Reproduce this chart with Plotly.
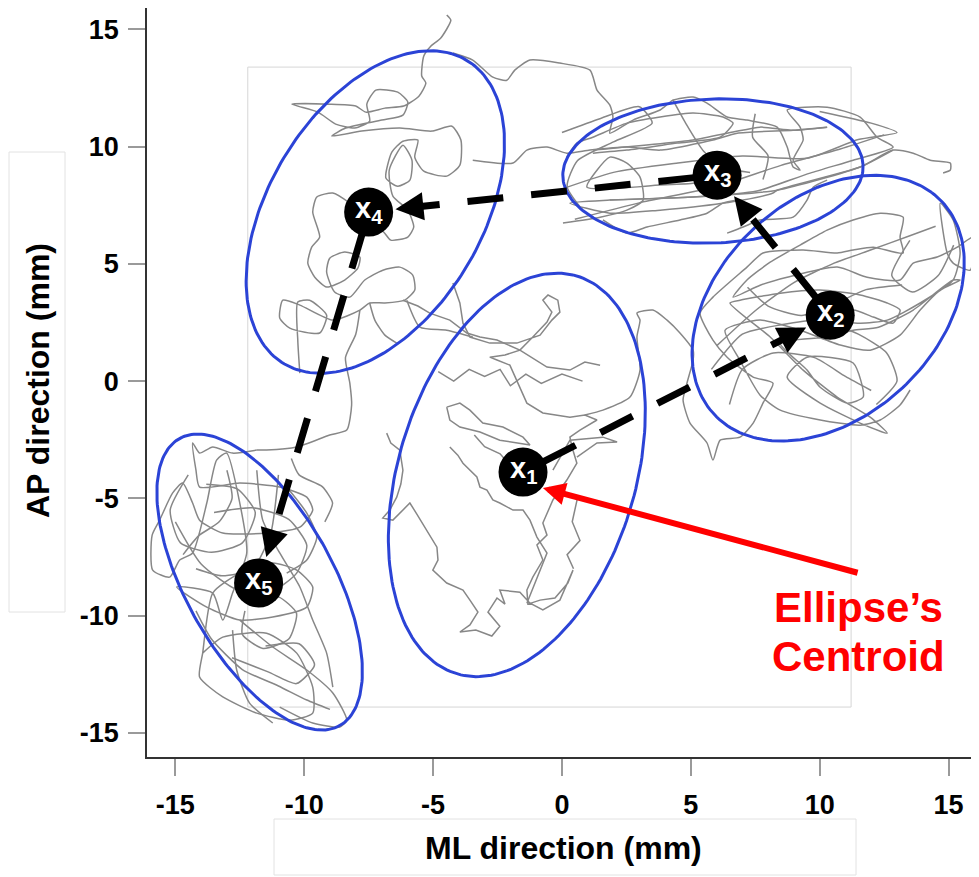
import math
import plotly.graph_objects as go

# ---------------- data ----------------
X_RANGE = [-16.1, 15.95]
Y_RANGE = [-16.03, 15.91]
x_tick_vals = [-15, -10, -5, 0, 5, 10, 15]
x_tick_text = ["-15", "-10", "-5", "0", "5", "10", "15"]
y_tick_vals = [-15, -10, -5, 0, 5, 10, 15]
y_tick_text = ["-15", "-10", "-5", "0", "5", "10", "15"]

# ellipse centroids (black dots x1..x5)
centroid_labels = ["1", "2", "3", "4", "5"]
centroid_x = [-1.51, 10.41, 6.02, -7.50, -11.77]
centroid_y = [-3.88, 2.81, 8.78, 7.21, -8.61]

# confidence ellipses: centre, semi-major, semi-minor, angle of major axis (deg)
ellipse_cx = [-1.75, 10.33, 5.86, -7.24, -11.73]
ellipse_cy = [-4.00, 3.11, 8.96, 7.21, -8.57]
ellipse_a = [8.80, 6.36, 5.83, 7.39, 6.87]
ellipse_b = [4.63, 4.42, 3.07, 4.22, 2.92]
ellipse_angle = [75.7, 50.8, 2.5, 63.5, 115.9]

# red call-out arrow (tail -> tip) and its label
callout_tail = (11.53, -8.19)
callout_tip = (-0.74, -4.56)
callout_lines = ["Ellipse\u2019s", "Centroid"]
callout_text_x = 11.5
callout_text_y = [-9.64, -11.73]

# centre-of-pressure sway paths (ML, AP), None = pen up
sway_1 = [
    (-6.80, -2.22), (-6.64, -2.64), (-6.29, -2.94), (-6.17, -3.80), (-6.25, -4.39), (-6.41, -4.95),
    (-6.68, -5.50), (-6.95, -5.84), (-6.56, -5.93), (-6.17, -5.50), (-5.90, -5.20), (-5.63, -5.67),
    (-5.24, -6.35), (-4.85, -7.08), (-4.81, -7.63), (-5.01, -8.06), (-4.47, -8.61), (-3.84, -8.91),
    (-3.57, -9.34), (-3.26, -9.85), (-3.57, -10.40), (-3.96, -10.70), (-3.34, -10.62), (-2.72, -10.87),
    (-2.41, -10.45), (-2.87, -9.85), (-2.52, -9.25), (-2.21, -9.51), (-2.41, -8.91), (-1.63, -9.00),
    (-1.24, -9.47), (-0.74, -9.76), (-0.08, -9.34), (0.19, -8.70), (0.43, -8.06), (0.23, -8.61),
    (-0.27, -9.25), (-0.85, -9.34), (-1.32, -9.51), (-1.36, -8.91), (-1.13, -8.36), (-0.74, -7.63),
    (-0.97, -6.99), (-0.58, -6.57), (-0.74, -6.05), (-0.35, -5.07), (0.19, -4.22), (0.58, -3.50),
    (0.39, -2.81), (0.31, -2.39), (0.70, -2.09), (1.36, -1.66), (0.89, -1.45), (0.31, -1.54),
    (-0.74, -1.36), (-1.36, -0.94), (-1.75, 0.04), (-2.02, 0.68), (-2.52, 0.90), (-2.80, 1.02),
    (-2.21, 1.11), (-1.63, 1.32), (-1.13, 1.88), (-0.58, 2.52), (-0.39, 2.94), (-0.74, 3.45),
    (-0.54, 3.67), (-0.16, 3.45), (-0.08, 2.94), (-0.39, 2.60), (-0.85, 1.96), (-1.75, 1.62),
    (-2.80, 1.62), (-3.57, 1.88), (-3.84, 2.47), (-3.96, 3.33), (-4.23, 4.18),
    None,
    (-6.17, 3.45), (-5.59, 3.20), (-5.13, 2.90), (-4.35, 2.60), (-3.69, 2.05), (-3.18, 1.88),
    (-2.52, 1.75), (-1.63, 1.32), (-0.58, 0.60), (0.31, 0.47), (0.89, 0.81), (1.48, 0.68),
    None,
    (-4.47, -1.11), (-3.96, -0.94), (-3.57, -1.24), (-3.07, -1.79), (-2.29, -1.96), (-1.51, -2.39),
    (-1.24, -2.73), (-2.41, -2.52), (-3.18, -2.17), (-3.96, -1.96), (-4.35, -1.66), (-4.47, -1.11),
    None,
    (-4.35, -2.81), (-4.04, -3.16), (-3.84, -3.50), (-3.57, -3.80), (-3.30, -4.09), (-3.18, -4.52),
    (-2.91, -4.65), (-2.68, -5.07), (-2.41, -5.20), (-1.90, -5.50), (-1.51, -5.50), (-1.24, -5.93),
    (-0.97, -6.65), (-0.58, -7.33), (-0.97, -8.36), (-1.36, -9.47),
    None,
    (-0.35, -3.80), (-0.08, -3.28), (0.31, -2.52), (1.59, -2.39), (2.14, -2.60), (1.36, -2.64), (0.58, -3.24),
    None,
    (-4.80, 0.40), (-4.20, 0.00), (-3.60, 0.50), (-3.00, 0.20), (-2.40, 0.50), (-2.00, -0.20), (-1.40, 0.30),
    (-0.80, -0.10), (0.00, 0.30), (0.80, 0.00),
    None,
    (-3.40, -2.30), (-3.00, -2.80), (-2.40, -3.10), (-2.00, -3.60), (-2.30, -4.20), (-1.90, -4.80),
    None,
    (0.60, -5.00), (0.40, -6.00), (0.70, -6.80), (0.20, -7.40), (0.45, -8.00),
]

sway_2 = [
    (0.89, -1.45), (1.59, -1.24), (2.64, -0.68), (3.03, 0.47), (2.91, 1.88), (3.03, 2.60), (2.91, 2.90),
    (3.53, 3.03), (4.08, 2.60), (4.58, 2.05), (5.09, 1.32), (5.09, 0.90), (4.85, -0.09), (4.70, -0.81),
    (4.97, -1.79), (5.63, -2.64), (5.86, -3.37), (6.14, -2.52), (6.91, -2.39), (7.42, -1.79),
    (7.80, -0.94), (8.19, -0.09), (7.42, 0.17), (6.41, 1.02), (5.86, 1.75), (5.36, 2.90), (5.86, 3.58),
    (7.18, 4.86), (7.80, 5.46), (9.36, 5.59), (10.68, 5.46), (11.30, 5.59), (12.08, 5.71), (13.24, 5.46),
    (13.12, 6.14), (13.24, 6.99), (12.35, 7.16), (11.30, 6.87), (10.29, 6.44), (9.24, 5.80), (8.08, 5.07),
    (7.18, 4.31), (6.64, 3.58), (7.69, 4.09), (8.74, 4.43), (10.68, 4.86), (11.84, 4.43), (13.12, 4.31),
    (13.63, 5.03), (14.56, 5.29), (15.34, 5.71), (15.96, 6.14), (15.84, 4.73), (15.18, 5.03), (14.95, 5.46),
    (14.68, 7.59), (15.18, 6.87), (15.45, 5.46), (15.18, 4.31), (13.90, 3.33), (12.62, 2.60), (11.57, 2.47),
    (10.68, 2.60), (11.30, 3.03), (12.08, 2.73), (12.85, 2.47), (13.12, 3.03), (12.62, 3.33), (11.57, 3.67),
    (10.02, 3.88), (8.47, 3.75), (6.91, 3.45), (6.52, 3.33), (8.08, 1.88), (9.36, 0.47), (10.68, -0.68),
    (11.96, -1.54), (12.62, -2.22), (11.57, -1.79), (10.02, -0.94), (8.74, 0.17), (9.51, 1.02), (11.30, 0.77),
    (11.69, -0.68), (11.07, -0.94), (10.02, -0.26), (9.51, 0.47), (8.47, 1.62), (10.29, 1.88), (11.30, 2.17),
    (12.28, 2.30), (13.63, 3.03), (15.18, 4.31), (15.45, 4.31), (14.68, 3.88), (13.90, 3.03), (13.12, 1.96),
    (11.96, 1.32), (10.80, 1.54), (9.24, 2.17), (7.69, 2.60), (6.33, 2.17), (6.90, 0.90), (7.69, -0.60),
    (8.47, -1.24), (10.02, -1.66), (11.57, -1.88), (12.35, -1.66), (13.12, -1.02), (13.51, -0.38),
    None,
    (6.00, 1.50), (7.50, 3.00), (9.00, 4.20), (10.50, 5.00), (12.00, 5.60), (13.50, 6.20), (14.50, 6.60),
    None,
    (5.80, 0.50), (7.00, 2.00), (8.50, 2.40), (10.00, 2.60), (11.50, 2.00), (12.60, 1.20), (13.00, 0.00),
    (12.20, -1.00),
    None,
    (6.50, -1.00), (7.00, 0.50), (8.20, 1.20), (9.80, 1.00), (11.00, 0.20), (12.00, -0.40),
    None,
    (13.50, 6.00), (12.80, 4.50), (13.60, 3.80), (14.60, 4.50), (15.20, 5.80),
    None,
    (7.20, 4.00), (8.00, 3.20), (9.30, 2.80), (10.60, 3.30), (11.80, 3.90), (13.20, 4.10),
]

sway_3 = [
    (-4.23, 13.99), (-3.46, 13.69), (-2.68, 12.96), (-2.14, 12.83), (-1.83, 13.26), (-1.24, 13.69),
    (-0.08, 13.56), (1.09, 13.26), (1.36, 12.41), (1.86, 11.77), (1.98, 11.26), (1.86, 10.57),
    (2.76, 11.13), (3.81, 11.56), (4.31, 11.98), (5.09, 12.11), (5.63, 11.85), (6.41, 11.26),
    (7.18, 11.13), (8.35, 10.83), (8.74, 9.98), (8.97, 9.13), (9.24, 9.00), (8.97, 9.42), (9.36, 10.28),
    (9.24, 10.83), (8.74, 11.56), (10.29, 11.68), (11.57, 11.26), (12.23, 10.40), (12.85, 9.98),
    (11.30, 9.42), (9.63, 8.87), (7.69, 8.14), (7.03, 8.02), (5.09, 7.85), (1.86, 7.72), (0.31, 7.59),
    (1.86, 7.16), (3.81, 7.29), (5.09, 7.42), (7.03, 7.72), (8.19, 8.02), (8.35, 8.14), (11.57, 9.13),
    (12.85, 9.85), (13.63, 9.72), (14.29, 9.42), (15.07, 9.30), (15.07, 9.00), (14.79, 8.87),
    None,
    (0.19, 9.55), (0.58, 10.15), (1.20, 10.40), (2.52, 11.00), (3.81, 11.26), (5.09, 11.43), (6.25, 11.26),
    (6.64, 11.00), (6.14, 10.40), (4.47, 10.15), (2.52, 9.85), (1.20, 9.72),
    None,
    (-3.46, 9.42), (-1.90, 9.30), (-1.36, 9.85), (-0.58, 9.98), (0.19, 9.72), (1.09, 9.85), (2.52, 9.98),
    (3.81, 9.85), (5.86, 10.28), (6.80, 10.57), (8.97, 10.70), (10.29, 10.83),
    None,
    (0.04, 6.74), (1.48, 6.99), (2.52, 7.29), (3.15, 7.72), (3.03, 8.70), (2.52, 9.30), (1.86, 9.55),
    (0.97, 8.27), (3.81, 8.36), (5.09, 8.44), (6.00, 8.60),
    None,
    (6.41, 6.31), (7.03, 6.57), (7.69, 6.87), (8.97, 6.99), (9.51, 7.72), (9.75, 8.27), (10.29, 8.57),
    None,
    (1.59, 6.87), (2.52, 6.31), (3.30, 6.57), (4.58, 6.87), (5.63, 7.16), (6.25, 7.59), (6.80, 7.72),
    None,
    (1.20, 9.85), (5.09, 10.28), (6.64, 10.62), (7.69, 10.83), (8.97, 10.70), (10.29, 10.83),
    None,
    (1.86, 7.72), (5.09, 7.85), (8.35, 8.14), (11.57, 9.13), (12.85, 9.85),
    None,
    (-0.50, 8.00), (2.00, 8.90), (4.50, 9.30), (7.00, 9.60), (9.50, 9.50), (11.50, 10.30), (13.00, 10.60),
    (12.00, 11.00), (10.00, 11.50),
    None,
    (0.50, 6.90), (3.00, 7.60), (6.00, 8.30), (8.50, 9.20), (10.80, 9.90), (12.50, 10.50),
    None,
    (0.00, 10.60), (1.50, 11.20), (3.00, 11.70), (3.50, 11.00), (2.00, 10.20), (0.60, 9.40), (0.20, 8.30),
    (0.80, 7.30),
    None,
    (4.30, 12.00), (4.80, 11.00), (5.50, 9.80), (6.30, 9.10), (7.30, 8.90),
    None,
    (7.50, 11.40), (7.40, 10.40), (8.00, 9.60), (7.80, 8.60),
]

sway_4 = [
    (-4.47, 15.61), (-4.31, 15.39), (-4.70, 14.63), (-5.09, 14.28), (-5.36, 13.86), (-5.44, 13.01),
    (-5.28, 12.71), (-5.55, 12.15), (-6.14, 11.73), (-6.87, 11.64), (-7.61, 11.47), (-8.00, 11.73),
    (-9.01, 11.81), (-10.48, 11.81), (-9.47, 11.47), (-8.78, 10.96), (-8.04, 10.79), (-7.46, 11.09),
    (-7.57, 11.81), (-7.22, 12.41), (-6.37, 12.32), (-5.98, 11.90), (-6.17, 11.34), (-6.99, 11.13),
    (-8.39, 10.79), (-8.93, 10.45), (-7.77, 10.66), (-6.29, 10.79), (-5.05, 10.66), (-4.27, 10.87),
    (-3.92, 10.28), (-3.96, 9.21), (-4.47, 8.74), (-5.36, 8.95), (-5.71, 9.55), (-5.59, 10.28),
    (-6.17, 10.23), (-6.60, 9.76), (-6.83, 8.66), (-6.37, 8.31), (-5.90, 8.57), (-5.82, 9.42),
    (-6.17, 10.06), (-6.70, 9.00), (-6.56, 7.89), (-5.98, 7.29), (-5.75, 6.57), (-5.98, 6.14),
    (-6.64, 6.01), (-6.91, 6.35), (-8.23, 7.59), (-8.89, 8.02), (-9.51, 7.85), (-9.67, 7.21),
    (-9.40, 6.14), (-9.71, 5.71), (-9.86, 5.03), (-9.59, 4.43), (-9.13, 4.01), (-8.43, 4.31),
    (-7.92, 4.82), (-7.84, 5.29), (-8.43, 5.50), (-9.01, 5.24), (-9.13, 4.65), (-8.82, 3.80),
    (-8.23, 3.58), (-7.65, 4.31), (-6.95, 4.73), (-6.29, 4.86), (-5.79, 4.52), (-5.71, 3.88),
    (-6.10, 3.45), (-6.87, 3.33), (-7.46, 3.33), (-7.84, 3.03), (-8.89, 2.60), (-10.17, 3.24),
    (-10.83, 3.45), (-10.95, 2.69), (-10.56, 2.26), (-9.40, 2.05), (-9.13, 2.81), (-9.79, 3.45),
    (-10.25, 3.37), (-10.25, 1.75), (-10.17, 0.34),
    None,
    (-7.46, 3.33), (-7.26, 2.60), (-6.87, 1.96), (-6.41, 1.62),
    None,
    (-6.02, 3.45), (-5.51, 2.30), (-4.47, 2.17), (-3.46, 1.88),
    None,
    (-7.84, 3.03), (-8.00, 2.00), (-8.40, 1.00), (-8.23, -0.09), (-8.16, -1.02), (-8.35, -2.09),
    (-9.01, -2.30), (-10.29, -2.81), (-11.46, -2.94), (-11.84, -2.94),
]

sway_5 = [
    (-11.84, -2.94), (-12.78, -3.07), (-13.55, -2.81), (-14.06, -3.07), (-14.33, -2.64), (-14.20, -3.80),
    (-14.06, -4.52), (-12.50, -4.35), (-10.95, -4.52), (-9.90, -4.95), (-9.67, -5.50), (-10.17, -6.23),
    (-11.46, -6.48), (-13.16, -6.48), (-14.06, -5.93), (-14.33, -5.20), (-14.72, -4.35), (-15.11, -4.78),
    (-15.61, -5.93), (-15.90, -6.57), (-15.88, -8.06), (-15.22, -8.36), (-14.83, -7.63), (-14.33, -7.33),
    (-13.78, -5.20), (-13.40, -3.37), (-13.01, -3.07), (-12.50, -5.20), (-12.23, -7.33), (-12.78, -9.04),
    (-13.16, -10.19), (-13.55, -9.04), (-14.95, -8.78), (-13.78, -9.64), (-12.50, -10.19), (-11.22, -10.06),
    (-9.90, -9.64), (-9.67, -8.78), (-10.29, -8.06), (-11.22, -7.76), (-12.50, -8.19), (-13.55, -9.04),
    (-13.94, -11.60), (-14.06, -12.62), (-13.16, -13.47), (-11.84, -14.16), (-10.56, -14.46), (-9.67, -14.16),
    (-9.67, -13.05), (-10.29, -11.60), (-11.46, -10.75), (-13.16, -10.92), (-13.94, -11.60),
    None,
    (-12.50, -10.19), (-11.22, -11.34), (-9.90, -12.32), (-8.89, -13.30), (-8.35, -14.46), (-8.62, -14.75),
    (-9.67, -14.58), (-10.95, -13.90),
    None,
    (-12.78, -10.62), (-12.62, -12.32), (-12.12, -13.73), (-11.22, -14.58),
    None,
    (-11.84, -3.80), (-11.61, -5.93), (-10.95, -7.33), (-10.17, -8.78), (-9.67, -10.19), (-9.13, -11.60),
    (-8.89, -13.05),
    None,
    (-10.68, -4.52), (-9.90, -5.63), (-9.51, -6.65), (-9.90, -7.63), (-10.68, -8.19),
    None,
    (-14.50, -4.00), (-15.20, -5.50), (-14.80, -6.90), (-13.60, -7.30), (-12.40, -6.90), (-11.90, -5.60),
    (-12.60, -4.60), (-13.80, -4.40),
    None,
    (-12.00, -9.30), (-11.00, -9.20), (-10.30, -9.90), (-10.60, -11.00), (-11.60, -11.40), (-12.40, -10.80),
    (-12.30, -9.80),
    None,
    (-14.20, -9.80), (-13.60, -11.00), (-12.40, -12.30), (-11.00, -13.00), (-9.90, -13.60), (-9.00, -14.00),
    None,
    (-10.50, -3.30), (-10.20, -4.00), (-9.30, -4.50), (-8.90, -5.20), (-9.20, -6.00),
    None,
    (-15.00, -6.00), (-14.00, -7.80), (-12.60, -8.90), (-11.30, -9.00), (-10.30, -8.20), (-9.90, -7.00),
    (-10.60, -5.90), (-12.00, -5.40), (-13.50, -5.60),
    None,
    (-13.00, -3.80), (-12.80, -5.00), (-13.30, -6.00), (-14.10, -6.60), (-14.70, -7.40),
    None,
    (-12.80, -11.80), (-11.40, -12.40), (-10.30, -12.90), (-9.60, -12.10), (-10.20, -11.20), (-11.50, -11.30),
    None,
    (-11.00, -4.00), (-11.30, -6.50), (-12.00, -8.00), (-13.20, -8.30), (-14.20, -8.00),
]

# ---------------- figure geometry ----------------
PAGE_OFFSET = 8                     # default body margin of the html page
FIG_W, FIG_H = 971, 869
M_L, M_R, M_T, M_B = 139, 6, 0, 120
PLOT_W = FIG_W - M_L - M_R
PLOT_H = FIG_H - M_T - M_B
PLOT_LEFT_PX = PAGE_OFFSET + M_L
PLOT_BOTTOM_PX = PAGE_OFFSET + M_T + PLOT_H
SX = PLOT_W / (X_RANGE[1] - X_RANGE[0])
SY = PLOT_H / (Y_RANGE[1] - Y_RANGE[0])

FONT = "Liberation Sans, Arial, Helvetica, sans-serif"
GRAY = "#878787"
BLUE = "#2b43d6"


def px_paper_x(px):
    return (px - PLOT_LEFT_PX) / PLOT_W


def px_paper_y(py):
    return (PLOT_BOTTOM_PX - py) / PLOT_H


def unzip(path):
    xs, ys = [], []
    for p in path:
        if p is None:
            xs.append(None)
            ys.append(None)
        else:
            xs.append(p[0])
            ys.append(p[1])
    return xs, ys


fig = go.Figure()

# sway paths
for path, shape in [(sway_1, "linear"), (sway_2, "spline"), (sway_3, "spline"),
                    (sway_4, "spline"), (sway_5, "spline")]:
    xs, ys = unzip(path)
    fig.add_trace(go.Scatter(x=xs, y=ys, mode="lines", connectgaps=False,
                             line=dict(color=GRAY, width=1.5, shape=shape, smoothing=0.6),
                             hoverinfo="skip", showlegend=False))

# ellipses
for cx, cy, a, b, ang in zip(ellipse_cx, ellipse_cy, ellipse_a, ellipse_b, ellipse_angle):
    th = math.radians(ang)
    ex, ey = [], []
    for k in range(201):
        t = 2 * math.pi * k / 200
        ex.append(cx + a * math.cos(t) * math.cos(th) - b * math.sin(t) * math.sin(th))
        ey.append(cy + a * math.cos(t) * math.sin(th) + b * math.sin(t) * math.cos(th))
    fig.add_trace(go.Scatter(x=ex, y=ey, mode="lines", line=dict(color=BLUE, width=3),
                             hoverinfo="skip", showlegend=False))

annotations = []

# dashed arrows between consecutive centroids
for i in range(len(centroid_x) - 1):
    x0, y0 = centroid_x[i], centroid_y[i]
    x1, y1 = centroid_x[i + 1], centroid_y[i + 1]
    dxp, dyp = (x1 - x0) * SX, (y1 - y0) * SY
    L = math.hypot(dxp, dyp)
    ux, uy = dxp / L, dyp / L

    def at(bx, by, d):
        return bx + ux * d / SX, by + uy * d / SY

    sx_, sy_ = at(x0, y0, 23)
    tipx, tipy = at(x1, y1, -27)
    endx, endy = at(x1, y1, -45)
    tailx, taily = at(x1, y1, -52)
    fig.add_trace(go.Scatter(x=[sx_, endx], y=[sy_, endy], mode="lines",
                             line=dict(color="black", width=7, dash="36px,28px"),
                             hoverinfo="skip", showlegend=False))
    annotations.append(dict(x=tipx, y=tipy, ax=tailx, ay=taily, xref="x", yref="y",
                            axref="x", ayref="y", text="", showarrow=True,
                            arrowhead=2, arrowsize=0.8, arrowwidth=7, arrowcolor="black"))

# centroid dots
fig.add_trace(go.Scatter(x=centroid_x, y=centroid_y, mode="markers",
                         marker=dict(size=49, color="black", line=dict(width=0)),
                         hoverinfo="skip", showlegend=False))
for lab, cx, cy in zip(centroid_labels, centroid_x, centroid_y):
    annotations.append(dict(x=cx, y=cy, xref="x", yref="y", showarrow=False,
                            text="x<sub>%s</sub>" % lab,
                            font=dict(family=FONT, size=29, color="white", weight="bold"),
                            xanchor="center", yanchor="middle", yshift=2))

# red call-out
annotations.append(dict(x=callout_tip[0], y=callout_tip[1], ax=callout_tail[0], ay=callout_tail[1],
                        xref="x", yref="y", axref="x", ayref="y", text="", showarrow=True,
                        arrowhead=2, arrowsize=0.75, arrowwidth=6, arrowcolor="#ff0000"))
for line, ty in zip(callout_lines, callout_text_y):
    annotations.append(dict(x=callout_text_x, y=ty, xref="x", yref="y", showarrow=False,
                            text=line, font=dict(family=FONT, size=42, color="#ff0000", weight="bold"),
                            xanchor="center", yanchor="middle"))

# axis titles
annotations.append(dict(x=px_paper_x(563), y=px_paper_y(848),
                        xref="paper", yref="paper", showarrow=False, text="ML direction (mm)",
                        font=dict(family=FONT, size=32, color="black", weight="bold"),
                        xanchor="center", yanchor="middle"))
annotations.append(dict(x=px_paper_x(38), y=px_paper_y(381),
                        xref="paper", yref="paper", showarrow=False, text="AP direction (mm)",
                        textangle=-90,
                        font=dict(family=FONT, size=32, color="black", weight="bold"),
                        xanchor="center", yanchor="middle"))

# faint frames (artefacts of the original composite)
shapes = [
    dict(type="rect", xref="x", yref="y", x0=-12.19, x1=11.22, y0=-13.90, y1=13.39,
         line=dict(color="#d6d6d6", width=1), layer="below"),
    dict(type="rect", xref="paper", yref="paper", x0=px_paper_x(9), x1=px_paper_x(65),
         y0=px_paper_y(612), y1=px_paper_y(152), line=dict(color="#e2e2e2", width=1), layer="below"),
    dict(type="rect", xref="paper", yref="paper", x0=px_paper_x(274), x1=px_paper_x(856),
         y0=px_paper_y(875), y1=px_paper_y(819), line=dict(color="#e2e2e2", width=1), layer="below"),
]

axis_common = dict(showgrid=False, zeroline=False, showline=True, linecolor="#333333", linewidth=1.5,
                   ticks="outside", ticklen=17, tickwidth=1.5, tickcolor="#9a9a9a", mirror=False,
                   tickfont=dict(family=FONT, size=27, color="black", weight="bold"))

fig.update_layout(
    width=FIG_W, height=FIG_H, autosize=False,
    margin=dict(l=M_L, r=M_R, t=M_T, b=M_B, pad=0),
    paper_bgcolor="white", plot_bgcolor="white",
    showlegend=False,
    xaxis=dict(range=X_RANGE, tickmode="array", tickvals=x_tick_vals, ticktext=x_tick_text,
               ticklabelstandoff=6, **axis_common),
    yaxis=dict(range=Y_RANGE, tickmode="array", tickvals=y_tick_vals, ticktext=y_tick_text,
               ticklabelstandoff=4, **axis_common),
    annotations=annotations,
    shapes=shapes,
)

fig.write_html("out.html")
